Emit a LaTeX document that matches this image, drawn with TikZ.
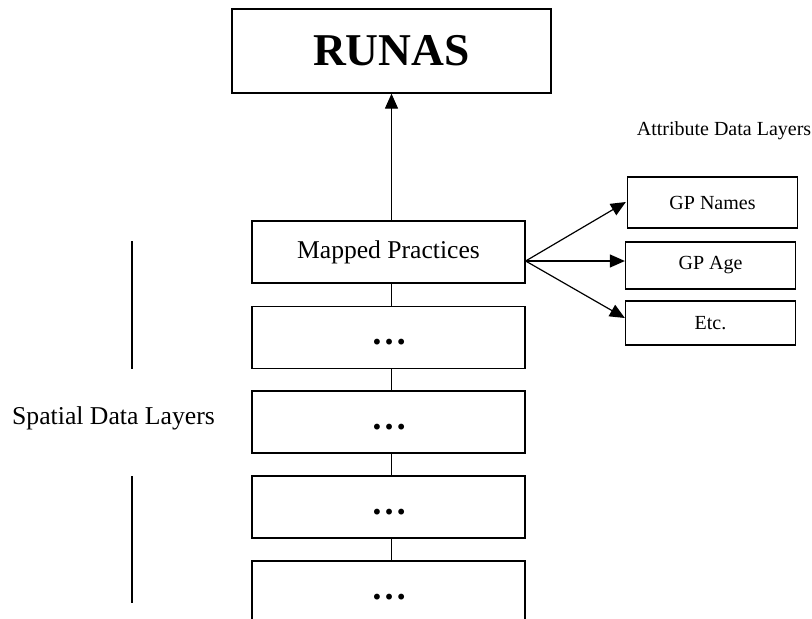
\documentclass[tikz,border=0pt]{standalone}
\usepackage{fontspec}
\setmainfont{Liberation Serif}
\usetikzlibrary{arrows.meta}
\begin{document}
\begin{tikzpicture}[x=1pt,y=-1pt,
  box/.style={draw,line width=1.3pt,rectangle,inner sep=0pt,align=center},
  layer/.style={box,minimum width=273pt,minimum height=62pt},
  attr/.style={box,minimum width=170pt,font=\fontsize{20}{22}\selectfont},
  link/.style={line width=1.2pt},
  arr/.style={line width=1.2pt,-{Triangle[length=15pt,width=13pt]}},
  dots/.style={font=\fontsize{36}{38}\selectfont\bfseries},
  lbl/.style={inner sep=0pt}]
\useasboundingbox (0,0) rectangle (812,619);
\clip (0,0) rectangle (812,619);
% top box
\node[box,minimum width=319pt,minimum height=84pt,font=\fontsize{45.5}{50}\selectfont\bfseries] (runas) at (391.5,51) {RUNAS};
% spatial layers
\node[layer,font=\fontsize{25.6}{28}\selectfont] (mp) at (388.5,252) {Mapped Practices};
\node[layer] (l2) at (388.5,337.5) {};
\node[layer] (l3) at (388.5,422) {};
\node[layer] (l4) at (388.5,507) {};
\node[layer] (l5) at (388.5,592) {};
\node[dots,lbl] (d2) at (389,342) {…};
\node[dots,lbl] (d3) at (389,427) {…};
\node[dots,lbl] (d4) at (389,512) {…};
\node[dots,lbl] (d5) at (389,597) {…};
% connectors
\draw[arr] ([xshift=3pt]mp.north) -- ([xshift=3pt]mp.north |- runas.south);
\draw[link] ([xshift=3pt]mp.south) -- ([xshift=3pt]l2.north);
\draw[link] ([xshift=3pt]l2.south) -- ([xshift=3pt]l3.north);
\draw[link] ([xshift=3pt]l3.south) -- ([xshift=3pt]l4.north);
\draw[link] ([xshift=3pt]l4.south) -- ([xshift=3pt]l5.north);
% attribute layers
\node[lbl,font=\fontsize{20}{22}\selectfont] (attrlbl) at (724,131) {Attribute Data Layers};
\node[attr,minimum height=51pt] (gpn) at (712.5,202.5) {GP Names};
\node[attr,minimum height=47pt] (gpa) at (710.5,265.5) {GP Age};
\node[attr,minimum height=44pt] (etc) at (710.5,323) {Etc.};
\coordinate (src) at ([yshift=-9pt]mp.east);
\draw[arr] (src) -- ([xshift=-1pt,yshift=0.5pt]gpn.west);
\draw[arr] (src) -- ([yshift=4.5pt]gpa.west);
\draw[arr] (src) -- ([yshift=5pt]etc.west);
% spatial label
\node[lbl,font=\fontsize{25.7}{28}\selectfont] (spl) at (113.5,418) {Spatial Data Layers};
\coordinate (b1a) at (132,241);
\coordinate (b1b) at (132,369);
\coordinate (b2a) at (132,476);
\coordinate (b2b) at (132,603);
\draw[link] (b1a) -- (b1b);
\draw[link] (b2a) -- (b2b);
\end{tikzpicture}
\end{document}
